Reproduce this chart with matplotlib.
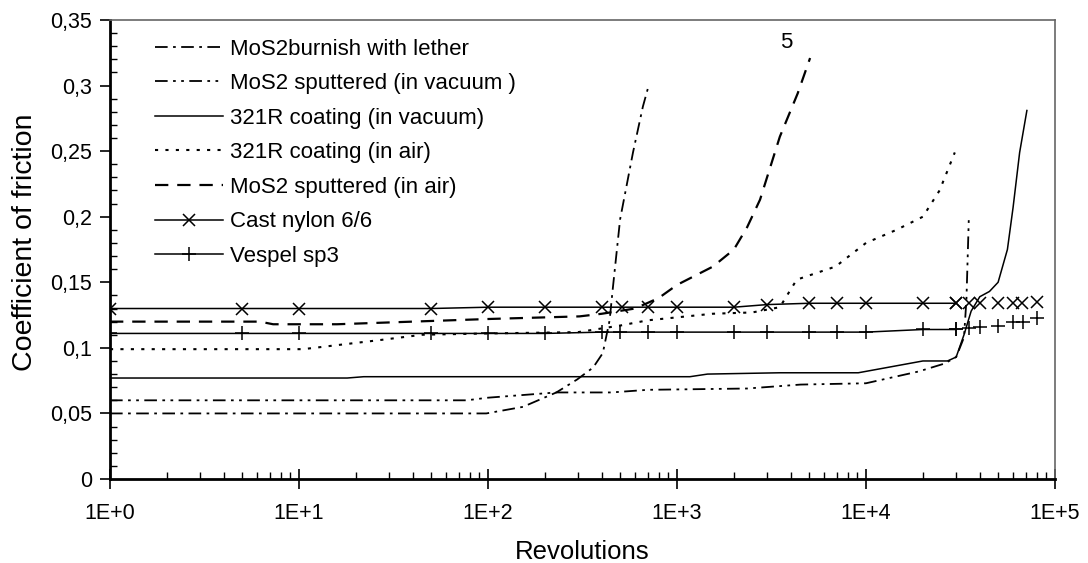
import matplotlib.pyplot as plt
from matplotlib.ticker import FixedLocator, LogLocator, MultipleLocator, NullFormatter

plt.rcParams['font.family'] = ['Liberation Sans', 'DejaVu Sans']

# MoS2 burnished with leather
burnish_x = [1, 98, 153, 230, 297, 360, 405, 440, 458, 500, 585, 660, 705]
burnish_y = [0.05, 0.05, 0.055, 0.066, 0.076, 0.085, 0.096, 0.121, 0.146, 0.198, 0.249, 0.284, 0.299]

# MoS2 sputtered (vacuum)
sputvac_x = [1, 77, 100, 230, 450, 700, 2350, 4500, 10000, 19000, 26000, 30000, 33000, 34000, 35000]
sputvac_y = [0.06, 0.06, 0.062, 0.066, 0.066, 0.068, 0.069, 0.072, 0.073, 0.082, 0.088, 0.093, 0.108, 0.137, 0.199]

# 321R vacuum
r321vac_x = [1, 18, 22, 1170, 1450, 3500, 9100, 20000, 27000, 30000, 33000, 36000, 40000, 45000,
             50000, 56000, 60000, 65000, 71000]
r321vac_y = [0.077, 0.077, 0.078, 0.078, 0.08, 0.081, 0.081, 0.09, 0.09, 0.093, 0.11, 0.128, 0.139, 0.143,
             0.15, 0.175, 0.207, 0.249, 0.281]

# 321R air
r321air_x = [1, 10.5, 27, 45, 100, 300, 500, 700, 1540, 2500, 3500, 4300, 6900, 10000, 14500, 20000, 24500, 29500]
r321air_y = [0.099, 0.099, 0.106, 0.11, 0.111, 0.112, 0.117, 0.121, 0.126, 0.127, 0.131, 0.152, 0.162, 0.18,
             0.19, 0.2, 0.22, 0.249]

# MoS2 sputtered (air)
sputair_x = [1, 6.2, 7.3, 15.9, 100, 305, 400, 600, 800, 1000, 1550, 2000, 2350, 2750, 3500, 4350, 5060]
sputair_y = [0.12, 0.12, 0.118, 0.118, 0.122, 0.124, 0.126, 0.13, 0.138, 0.148, 0.162, 0.175, 0.192, 0.213,
             0.261, 0.294, 0.321]

# cast nylon 6/6
nylon_x = [1, 5, 10, 50, 100, 200, 400, 510, 700, 1000, 2000, 3000, 5000, 7000, 10000, 20000, 30000,
           35000, 40000, 50000, 60000, 67000, 80000]
nylon_y = [0.13, 0.13, 0.13, 0.13, 0.131, 0.131, 0.131, 0.131, 0.131, 0.131, 0.131, 0.133, 0.134, 0.134,
           0.134, 0.134, 0.134, 0.134, 0.134, 0.134, 0.134, 0.134, 0.135]

# vespel sp3
vespel_x = [1, 5, 10, 50, 100, 200, 400, 500, 700, 1000, 2000, 3000, 5000, 7000, 10000, 20000, 30000,
            35000, 40000, 50000, 60000, 68000, 80000]
vespel_y = [0.111, 0.111, 0.111, 0.111, 0.111, 0.111, 0.112, 0.112, 0.112, 0.112, 0.112, 0.112, 0.112,
            0.112, 0.112, 0.114, 0.114, 0.115, 0.116, 0.117, 0.12, 0.12, 0.123]
tail = 16  # markers only after this point

fig = plt.figure(figsize=(10.88, 5.63), dpi=100)
ax = fig.add_axes([110 / 1088, 1 - 479 / 563, 945 / 1088, 459 / 563])

lw = 1.1
ax.plot(burnish_x, burnish_y, color='k', lw=1.3, ls=(0, (7, 3, 1.5, 3)), label='MoS2burnish with lether')
ax.plot(sputvac_x, sputvac_y, color='k', lw=1.3, ls=(0, (7, 3, 1.5, 3, 1.5, 3)), label='MoS2 sputtered (in vacuum )')
ax.plot(r321vac_x, r321vac_y, color='k', lw=lw, label='321R coating (in vacuum)')
ax.plot(r321air_x, r321air_y, color='k', lw=1.5, ls=(0, (1.5, 3.5)), label='321R coating (in air)')
ax.plot(sputair_x, sputair_y, color='k', lw=1.6, ls=(0, (6, 4)), label='MoS2 sputtered (in air)')
ax.plot(nylon_x[:tail + 1], nylon_y[:tail + 1], color='k', lw=lw, marker='x', ms=9, mew=1.1,
        label='Cast nylon 6/6')
ax.plot(nylon_x[tail:], nylon_y[tail:], color='k', ls='none', marker='x', ms=9, mew=1.1)
ax.plot(vespel_x[:tail + 1], vespel_y[:tail + 1], color='k', lw=lw, marker='+', ms=10, mew=1.1,
        label='Vespel sp3')
ax.plot(vespel_x[tail:], vespel_y[tail:], color='k', ls='none', marker='+', ms=10, mew=1.1)

ax.text(3800, 0.333, '5', fontsize=16, ha='center', va='center')

ax.set_xscale('log')
ax.set_xlim(1, 1e5)
ax.set_ylim(0, 0.35)
ax.xaxis.set_major_locator(FixedLocator([1, 10, 100, 1e3, 1e4, 1e5]))
ax.set_xticklabels(['1E+0', '1E+1', '1E+2', '1E+3', '1E+4', '1E+5'])
ax.xaxis.set_minor_locator(LogLocator(base=10, subs=range(2, 10)))
ax.xaxis.set_minor_formatter(NullFormatter())
ax.yaxis.set_major_locator(MultipleLocator(0.05))
ax.yaxis.set_minor_locator(MultipleLocator(0.01))
yt = [0, 0.05, 0.1, 0.15, 0.2, 0.25, 0.3, 0.35]
ax.set_yticks(yt)
ax.set_yticklabels(['0' if v == 0 else ('%g' % v).replace('.', ',') for v in yt])

ax.tick_params(axis='both', which='major', labelsize=15.5, width=1.2, color='k')
ax.tick_params(axis='x', which='major', direction='inout', length=14, pad=10)
ax.tick_params(axis='y', which='major', direction='out', length=7, pad=6)
ax.tick_params(axis='both', which='minor', direction='in', length=5, width=1)

for s in ['left', 'bottom']:
    ax.spines[s].set_linewidth(2)
for s in ['top', 'right']:
    ax.spines[s].set_linewidth(1.2)
    ax.spines[s].set_color('#666666')

ax.set_xlabel('Revolutions', fontsize=18.5, labelpad=11.5)
ax.set_ylabel('Coefficient of friction', fontsize=20.5, labelpad=8.5)
ax.yaxis.label.set_y(0.516)

ax.legend(loc='upper left', bbox_to_anchor=(0.038, 0.979), frameon=False, fontsize=16,
          handlelength=3.05, handletextpad=0.35, labelspacing=0.61, borderaxespad=0)

fig.savefig('out.png', dpi=100)
